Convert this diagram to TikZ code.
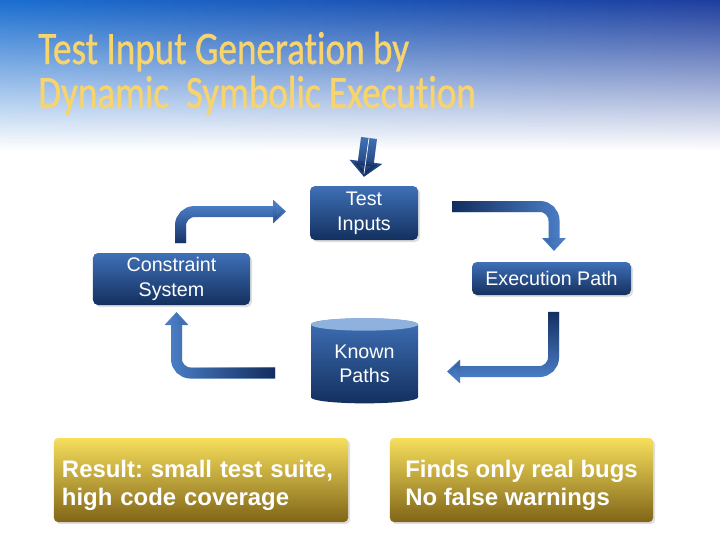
\documentclass[tikz,border=0pt]{standalone}
\usepackage{fontspec}
\setmainfont{Liberation Sans}
\newfontfamily\titlefont[FakeStretch=0.8, FakeBold=0.8, RawFeature=-liga]{Carlito}
\usepackage{tikz}
\usetikzlibrary{positioning,arrows.meta,shapes.geometric,calc,fadings,shadows}

\definecolor{bgleft}{HTML}{1A6ED0}
\definecolor{bgright}{HTML}{1E3E9E}
\definecolor{titleyellow}{HTML}{F8D46C}
\definecolor{boxtop}{HTML}{3F70B6}
\definecolor{boxbottom}{HTML}{13305F}
\definecolor{arrowlight}{HTML}{4A7DC4}
\definecolor{arrowdark}{HTML}{10295A}
\definecolor{captop}{HTML}{8FB1DD}
\definecolor{goldtop}{HTML}{F7DF5C}
\definecolor{goldbottom}{HTML}{806518}

\tikzfading[name=header fade, top color=transparent!0, middle color=transparent!40, bottom color=transparent!100]
\tikzfading[name=dark bottom, top color=transparent!100, bottom color=transparent!0]
\tikzfading[name=dark top, top color=transparent!0, bottom color=transparent!100]
\tikzfading[name=dark left, left color=transparent!0, right color=transparent!100]
\tikzfading[name=dark right, left color=transparent!100, right color=transparent!0]

\begin{document}
\frenchspacing
\begin{tikzpicture}[
    x=0.25mm, y=-0.25mm,
    font=\fontsize{14}{17.5}\selectfont,
    box/.style={rounded corners=1.25mm, top color=boxtop, bottom color=boxbottom, text=white, align=center, inner sep=0pt,
        drop shadow={opacity=0.25, shadow xshift=0.5mm, shadow yshift=-0.5mm}},
    goldbox/.style={rounded corners=1mm, top color=goldtop, bottom color=goldbottom, text=white, align=left,
        font=\bfseries\fontsize{17}{20}\selectfont, inner ysep=0pt, minimum height=21mm,
        drop shadow={opacity=0.25, shadow xshift=0.5mm, shadow yshift=-0.5mm}},
    store/.style={cylinder, shape border rotate=90, aspect=0.2, top color=boxtop, bottom color=boxbottom, text=white, align=center, inner sep=0pt},
    titletext/.style={font=\titlefont\fontsize{33}{31}\selectfont, text=titleyellow, anchor=base west, inner sep=0pt},
    looparrow/.style={draw=arrowlight, line width=2.75mm, rounded corners=3.5mm, -{Triangle[length=3.25mm, width=5.75mm]}},
    inarrow/.style={draw=arrowlight, line width=4mm, -{Triangle[length=3.75mm, width=8mm]}}
]
\useasboundingbox (0,0) rectangle (720,540);
\fill[white] (0,0) rectangle (720,540);

% ===== Header band =====
\shade[left color=bgleft, right color=bgright, path fading=header fade] (0,0) rectangle (720,150);
\node[titletext] (title) at (38,64) {Test Input Generation by};
\node[titletext] (subtitle) at (38,108) {Dynamic~~Symbolic Execution};

% ===== Nodes =====
\node[box, minimum width=27mm, minimum height=13.5mm] (tin) at (364,213) {Test\\Inputs};
\node[box, minimum width=39.25mm, minimum height=13mm] (cons) at (171.5,279) {Constraint\\System};
\node[box, minimum width=39.75mm, minimum height=8.25mm] (exec) at (551.5,278.5) {Execution Path};
\node[store, minimum width=26.75mm, minimum height=21.25mm] (kp) at (364.5,364) {Known\\Paths};
\fill[captop] let \p1=($(kp.before top)!0.5!(kp.after top)$), \p2=(kp.top), \p3=(kp.after top) in
    (\p1) ellipse [x radius={abs(\x3-\x1)}, y radius={abs(\y2-\y1)}];

\node[goldbox, text width=69.5mm, inner xsep=2mm] (result) at (201,480) {\rule{0pt}{19.5pt}Result: small test suite,\\high code coverage};
\node[goldbox, minimum width=65.75mm, inner xsep=0pt] (finds) at (521.5,480) {\rule{0pt}{19.5pt}Finds only real bugs\\No false warnings};

% ===== Arrows =====
\coordinate (seed) at (369,138);
\draw[inarrow, postaction={draw=arrowdark, path fading=dark bottom}] (seed) -- ([yshift=2.25mm]tin.north);
\draw[white, line width=0.5pt] (seed) -- ([yshift=3mm]tin.north);

\coordinate (solve) at (180.5,243);
\coordinate (toinput) at (286,211.5);
\draw[looparrow, postaction={draw=arrowdark, path fading=dark bottom}] (solve) |- (toinput);

\coordinate (run) at (452,206.5);
\coordinate (topath) at (554,251);
\draw[looparrow, postaction={draw=arrowdark, path fading=dark left}] (run) -| (topath);

\coordinate (store) at (553.5,312);
\coordinate (toknown) at (447,371.5);
\draw[looparrow, postaction={draw=arrowdark, path fading=dark top}] (store) |- (toknown);

\coordinate (negate) at (275,373);
\coordinate (tocons) at (176.5,312);
\draw[looparrow, postaction={draw=arrowdark, path fading=dark right}] (negate) -| (tocons);

\end{tikzpicture}
\end{document}
